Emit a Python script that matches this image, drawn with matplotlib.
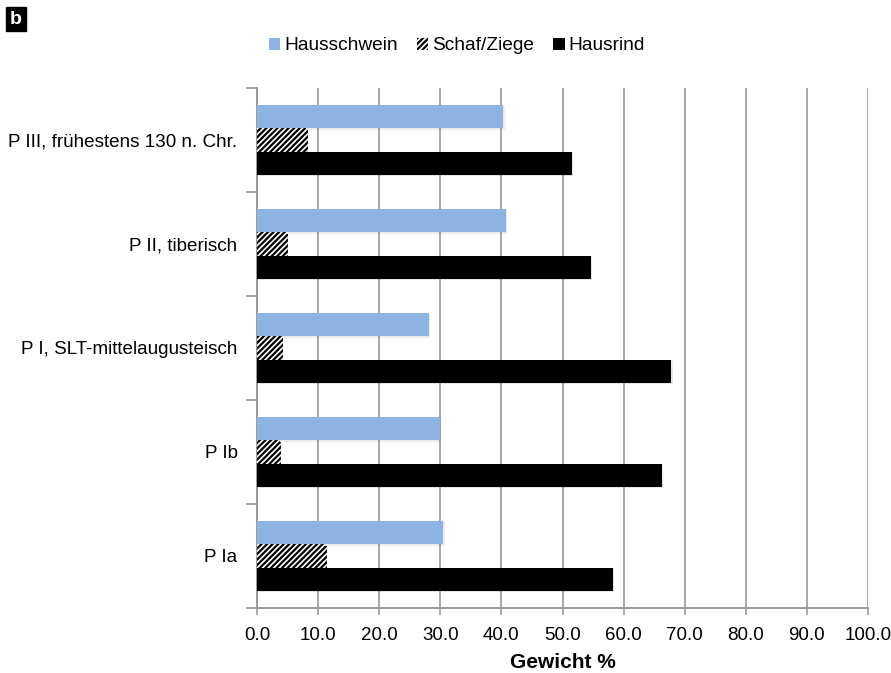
import numpy as np
import matplotlib
matplotlib.use("Agg")
import matplotlib.pyplot as plt
import matplotlib.patheffects as pe

plt.rcParams['font.family'] = ['Liberation Sans', 'DejaVu Sans']
plt.rcParams['hatch.linewidth'] = 1.6

phasen = ["P III, frühestens 130 n. Chr.", "P II, tiberisch", "P I, SLT-mittelaugusteisch", "P Ib", "P Ia"]
hausschwein = [40.3, 40.7, 28.1, 29.9, 30.5]
schaf_ziege = [8.1, 4.8, 4.1, 3.7, 11.2]
hausrind = [51.5, 54.6, 67.8, 66.3, 58.2]
x_ticks = np.arange(0, 101, 10)

fig = plt.figure(figsize=(8.91, 6.73), dpi=100)
ax = fig.add_axes([257 / 891, 1 - 608 / 673, 611 / 891, 520 / 673])

pos = np.arange(len(phasen))[::-1]
h = 0.225
shadow = [pe.SimplePatchShadow(offset=(1.0, -1.0), alpha=0.1), pe.Normal()]

b1 = ax.barh(pos + h, hausschwein, height=h, color="#8db3e2", label="Hausschwein", zorder=3)
b2 = ax.barh(pos, schaf_ziege, height=h, color="white", edgecolor="black", linewidth=0,
             hatch="//////", label="Schaf/Ziege", zorder=3)
b3 = ax.barh(pos - h, hausrind, height=h, color="black", label="Hausrind", zorder=3)
for bars in (b1, b2, b3):
    for r in bars:
        r.set_path_effects(shadow)

ax.set_xlim(0, 100)
ax.set_ylim(-0.5, len(phasen) - 0.5)
ax.set_xticks(x_ticks)
ax.set_xticklabels(["%.1f" % v for v in x_ticks], fontsize=13.5)
ax.set_yticks(pos)
ax.set_yticklabels(phasen, fontsize=13.6)
ax.tick_params(axis="y", length=0, pad=14)
ax.set_yticks(np.arange(-0.5, len(phasen), 1), minor=True)
ax.tick_params(axis="y", which="minor", length=8, color="#999999", width=1.2)
ax.tick_params(axis="x", length=5, color="#999999", width=1.2, pad=9)

ax.grid(axis="x", color="#a6a6a6", linewidth=1.4, zorder=0)
for s in ("top", "right"):
    ax.spines[s].set_visible(False)
for s in ("left", "bottom"):
    ax.spines[s].set_color("#999999")
    ax.spines[s].set_linewidth(1.4)

ax.set_xlabel("Gewicht %", fontsize=15, fontweight="heavy", labelpad=6)

leg = fig.legend(handles=[b1, b2, b3], loc="center", bbox_to_anchor=(457 / 891, 1 - 46 / 673),
                 ncol=3, frameon=False, fontsize=13.8, handlelength=0.6, handleheight=0.6,
                 handletextpad=0.2, columnspacing=1.0)
for p in leg.get_patches():
    p.set_path_effects([])

fig.text(10 / 891, 1 - 19 / 673, "b", fontsize=14, fontweight="bold", color="white",
         ha="left", va="center",
         bbox=dict(boxstyle="square,pad=0.2", facecolor="black", edgecolor="black"))

fig.savefig("out.png", dpi=100)
